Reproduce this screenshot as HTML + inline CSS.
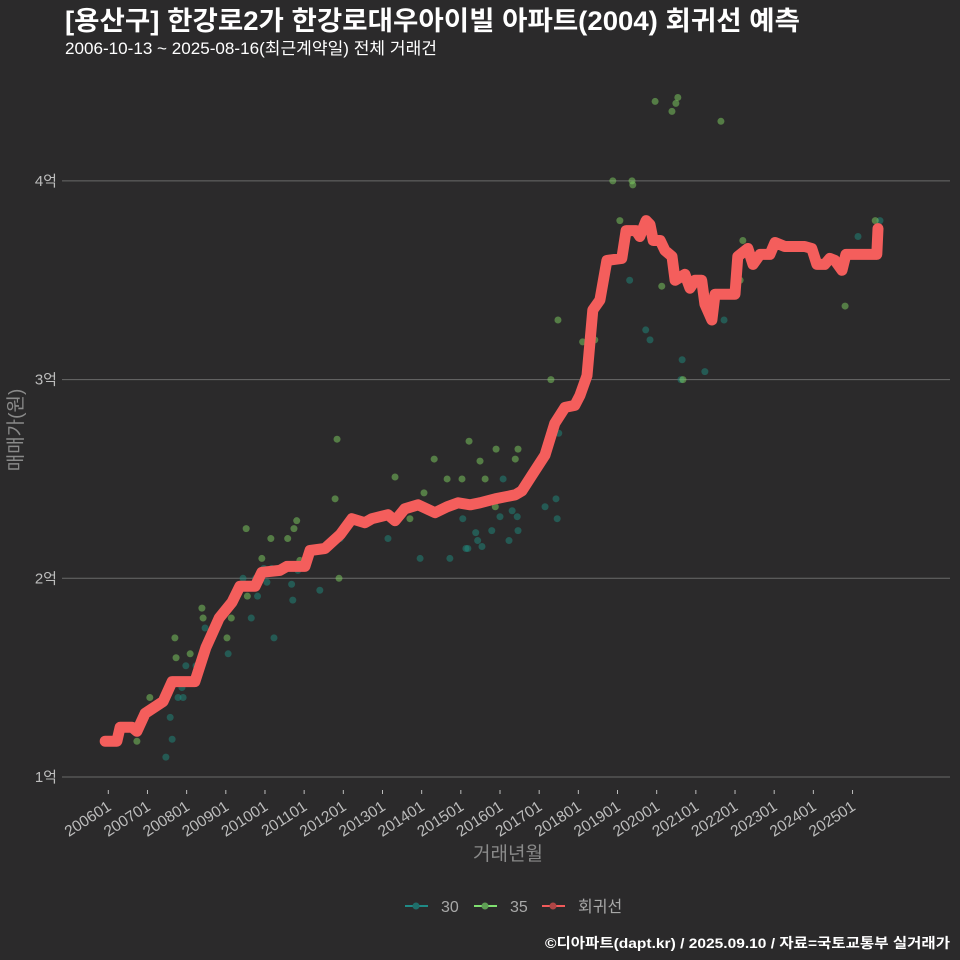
<!DOCTYPE html>
<html><head><meta charset="utf-8">
<style>
html,body{margin:0;padding:0;background:#2b2a2b;}
svg{display:block;font-family:"Liberation Sans","Noto Sans CJK KR",sans-serif;}
</style></head>
<body>
<svg id="chart" width="960" height="960" viewBox="0 0 960 960">
<rect width="960" height="960" fill="#2b2a2b"/>
<text x="65" y="30" fill="#ffffff" font-size="26.5" font-weight="bold" textLength="735" lengthAdjust="spacingAndGlyphs">[용산구] 한강로2가 한강로대우아이빌 아파트(2004) 회귀선 예측</text>
<text x="65" y="54" fill="#ffffff" font-size="16.5" textLength="372" lengthAdjust="spacingAndGlyphs">2006-10-13 ~ 2025-08-16(최근계약일) 전체 거래건</text>
<g id="grid"></g>
<g id="points"></g>
<g id="line"></g>
<g id="xaxis"></g>
<text transform="translate(22,430) rotate(-90)" text-anchor="middle" fill="#8a8a8a" font-size="19">매매가(원)</text>
<text x="508" y="860" text-anchor="middle" fill="#8a8a8a" font-size="19">거래년월</text>
<g>
 <g><line x1="405" y1="906" x2="428" y2="906" stroke="#1f8a86" stroke-width="2"/><circle cx="416" cy="906" r="3.5" fill="#1f6e6a"/><text x="441" y="912" fill="#a8a8a8" font-size="16">30</text></g>
 <g><line x1="474" y1="906" x2="497" y2="906" stroke="#7fe070" stroke-width="2"/><circle cx="485" cy="906" r="3.5" fill="#5f9f55"/><text x="510" y="912" fill="#a8a8a8" font-size="16">35</text></g>
 <g><line x1="542" y1="906" x2="565" y2="906" stroke="#f25a5a" stroke-width="2"/><circle cx="553" cy="906" r="3.5" fill="#b04545"/><text x="578" y="912" fill="#a8a8a8" font-size="16">회귀선</text></g>
</g>
<text x="950" y="948" text-anchor="end" fill="#ffffff" font-size="14" font-weight="bold" textLength="405" lengthAdjust="spacingAndGlyphs">©디아파트(dapt.kr) / 2025.09.10 / 자료=국토교통부 실거래가</text>
</svg>
<script>
const yTicks=[1,2,3,4];
const yTickLabels=["1억","2억","3억","4억"];
const xTickYears=[2006,2007,2008,2009,2010,2011,2012,2013,2014,2015,2016,2017,2018,2019,2020,2021,2022,2023,2024,2025];
const xTickLabels=["200601","200701","200801","200901","201001","201101","201201","201301","201401","201501","201601","201701","201801","201901","202001","202101","202201","202301","202401","202501"];
const lineYears=[2005.92,2006.22,2006.30,2006.61,2006.73,2006.94,2007.40,2007.63,2008.21,2008.49,2008.83,2009.16,2009.36,2009.75,2009.92,2010.38,2010.56,2011.02,2011.15,2011.53,2011.92,2012.22,2012.55,2012.73,2013.14,2013.32,2013.57,2013.91,2014.34,2014.65,2014.93,2015.24,2015.49,2015.88,2016.39,2016.56,2016.82,2017.15,2017.40,2017.66,2017.91,2018.04,2018.22,2018.37,2018.55,2018.73,2019.11,2019.22,2019.47,2019.57,2019.73,2019.83,2019.91,2020.09,2020.21,2020.39,2020.47,2020.72,2020.85,2020.98,2021.15,2021.23,2021.41,2021.49,2022.00,2022.07,2022.33,2022.46,2022.64,2022.89,2023.02,2023.27,2023.78,2023.96,2024.09,2024.29,2024.42,2024.55,2024.73,2024.83,2025.62,2025.65];
const lineValues=[1.18,1.18,1.25,1.25,1.23,1.32,1.38,1.48,1.48,1.65,1.80,1.88,1.96,1.96,2.03,2.04,2.06,2.06,2.14,2.15,2.22,2.30,2.28,2.30,2.32,2.29,2.35,2.37,2.33,2.36,2.38,2.37,2.38,2.40,2.42,2.44,2.52,2.62,2.78,2.86,2.87,2.92,3.02,3.35,3.40,3.60,3.61,3.75,3.75,3.72,3.80,3.78,3.70,3.70,3.65,3.62,3.50,3.53,3.46,3.50,3.50,3.38,3.30,3.43,3.43,3.62,3.66,3.58,3.63,3.63,3.69,3.67,3.67,3.66,3.58,3.58,3.61,3.60,3.55,3.63,3.63,3.76];
const s30Years=[2007.47,2007.58,2007.63,2007.78,2007.88,2007.91,2007.98,2008.24,2008.47,2009.06,2009.44,2009.65,2009.76,2009.81,2009.97,2010.05,2010.17,2010.23,2010.68,2010.71,2010.84,2011.40,2011.92,2013.14,2013.96,2014.47,2014.72,2015.05,2015.13,2015.18,2015.38,2015.41,2015.43,2015.54,2015.79,2016.00,2016.08,2016.23,2016.31,2016.44,2016.46,2017.15,2017.43,2017.46,2017.50,2019.31,2019.72,2019.83,2020.62,2020.65,2021.23,2021.72,2025.14,2025.70];
const s30Values=[1.10,1.30,1.19,1.40,1.45,1.40,1.56,1.56,1.75,1.62,2.00,1.80,2.00,1.91,2.05,1.98,2.05,1.70,1.97,1.89,2.04,1.94,2.20,2.20,2.10,2.35,2.10,2.30,2.15,2.15,2.23,2.37,2.19,2.16,2.24,2.31,2.50,2.19,2.34,2.31,2.24,2.36,2.40,2.30,2.73,3.50,3.25,3.20,3.00,3.10,3.04,3.30,3.72,3.80];
const s35Years=[2006.73,2007.06,2007.70,2007.73,2008.09,2008.39,2008.42,2009.03,2009.14,2009.52,2009.55,2009.92,2010.12,2010.15,2010.58,2010.74,2010.81,2010.89,2011.79,2011.84,2011.89,2013.32,2013.70,2014.06,2014.32,2014.65,2015.03,2015.21,2015.49,2015.62,2015.72,2015.88,2015.90,2016.15,2016.39,2016.46,2017.30,2017.48,2018.11,2018.42,2018.88,2019.06,2019.37,2019.39,2019.96,2020.13,2020.39,2020.49,2020.54,2020.67,2021.64,2022.13,2022.20,2024.81,2025.58];
const s35Values=[1.18,1.40,1.70,1.60,1.62,1.85,1.80,1.70,1.80,2.25,1.91,2.10,2.04,2.20,2.20,2.25,2.29,2.09,2.40,2.70,2.00,2.51,2.30,2.43,2.60,2.50,2.50,2.69,2.59,2.50,2.39,2.36,2.65,2.41,2.60,2.65,3.00,3.30,3.19,3.20,4.00,3.80,4.00,3.98,4.40,3.47,4.35,4.39,4.42,3.00,4.30,3.50,3.70,3.37,3.80];
const NS="http://www.w3.org/2000/svg";
function xs(y){return 108.3+(y-2006)*39.17;}
function ys(v){return 777-(v-1)*198.7;}
function mk(t,a,p){const e=document.createElementNS(NS,t);for(const k in a)e.setAttribute(k,a[k]);p.appendChild(e);return e;}
const grid=document.getElementById('grid');
yTicks.forEach((v,i)=>{
 const l=mk('line',{x1:62,x2:950,y1:ys(v),y2:ys(v),stroke:'#6a6a6a','stroke-width':1},grid);
 
 
 const t=mk('text',{x:57,y:ys(v)+5,'text-anchor':'end',fill:'#bdbdbd','font-size':15},grid);
 t.textContent=yTickLabels[i];
 
 
});
const xa=document.getElementById('xaxis');
xTickYears.forEach((y,i)=>{
 const x=xs(y);
 const tk=mk('line',{x1:x,x2:x,y1:790,y2:794,stroke:'#bdbdbd','stroke-width':1},xa);
 
 
 const t=mk('text',{transform:`translate(${x+4},${809}) rotate(-33)`,'text-anchor':'end',fill:'#bdbdbd','font-size':15.5},xa);
 t.textContent=xTickLabels[i];
 
 
});
const pts=document.getElementById('points');
function scatter(ys_,vs,fill,name){
 ys_.forEach((y,i)=>{
  const c=mk('circle',{cx:xs(y),cy:ys(vs[i]),r:3.5,fill:fill,'fill-opacity':0.5},pts);
  
  
 });
}
scatter(s30Years,s30Values,'#1f8a7e','point-30');
scatter(s35Years,s35Values,'#7fcf62','point-35');
const lg=document.getElementById('line');
const d=lineYears.map((y,i)=>(i?'L':'M')+xs(y).toFixed(1)+','+ys(lineValues[i]).toFixed(1)).join(' ');
const p=mk('path',{d:d,fill:'none',stroke:'#f45e5c','stroke-width':11,'stroke-linejoin':'round','stroke-linecap':'round'},lg);


</script>
</body></html>
